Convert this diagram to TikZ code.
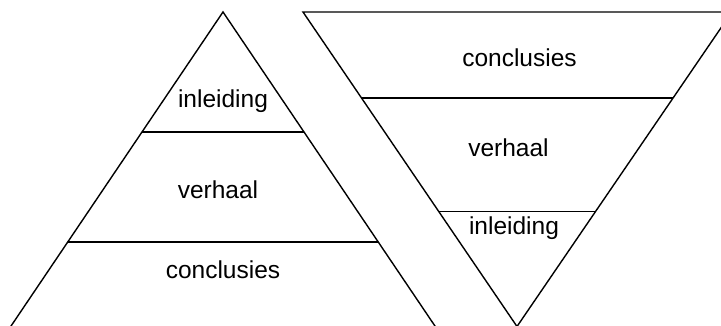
\documentclass[tikz,border=0pt]{standalone}
\usepackage{fontspec}
\setmainfont{Liberation Sans}
\usetikzlibrary{calc}
\begin{document}
\begin{tikzpicture}[x=1pt,y=-1pt,
  edge/.style={draw=black,line width=1.4pt,line join=miter},
  lbl/.style={anchor=base,inner sep=0pt,font=\fontsize{24.5}{28}\selectfont}]
\useasboundingbox (0,0) rectangle (721,326);
\clip (0,0) rectangle (721,326);
% left pyramid
\coordinate (LA) at (223,12);
\coordinate (LL) at (1.6,340);
\coordinate (LR) at (444.4,340);
\draw[edge] (LL) -- (LA) -- (LR);
\coordinate (L1a) at ($(LA)!0.3659!(LL)$);
\coordinate (L1b) at ($(LA)!0.3659!(LR)$);
\coordinate (L2a) at ($(LA)!0.7012!(LL)$);
\coordinate (L2b) at ($(LA)!0.7012!(LR)$);
\draw[edge] (L1a) -- (L1b);
\draw[edge] (L2a) -- (L2b);
\node[lbl] (lin) at (223,108) {inleiding};
\node[lbl] (lve) at (218,199) {verhaal};
\node[lbl] (lco) at (223,278) {conclusies};
% right inverted pyramid
\coordinate (RL) at (303,12);
\coordinate (RR) at (731.8,12);
\coordinate (RA) at (517,326.5);
\draw[edge] (RA) -- (RL) -- (RR) -- cycle;
\coordinate (R1a) at ($(RL)!0.2739!(RA)$);
\coordinate (R1b) at ($(RR)!0.2739!(RA)$);
\coordinate (R2a) at ($(RL)!0.6338!(RA)$);
\coordinate (R2b) at ($(RR)!0.6338!(RA)$);
\draw[edge] (R1a) -- (R1b);
\draw[edge] (R2a) -- (R2b);
\node[lbl] (rco) at (519.5,67) {conclusies};
\node[lbl] (rve) at (508.5,157) {verhaal};
\node[lbl] (rin) at (514,235) {inleiding};
\end{tikzpicture}
\end{document}
